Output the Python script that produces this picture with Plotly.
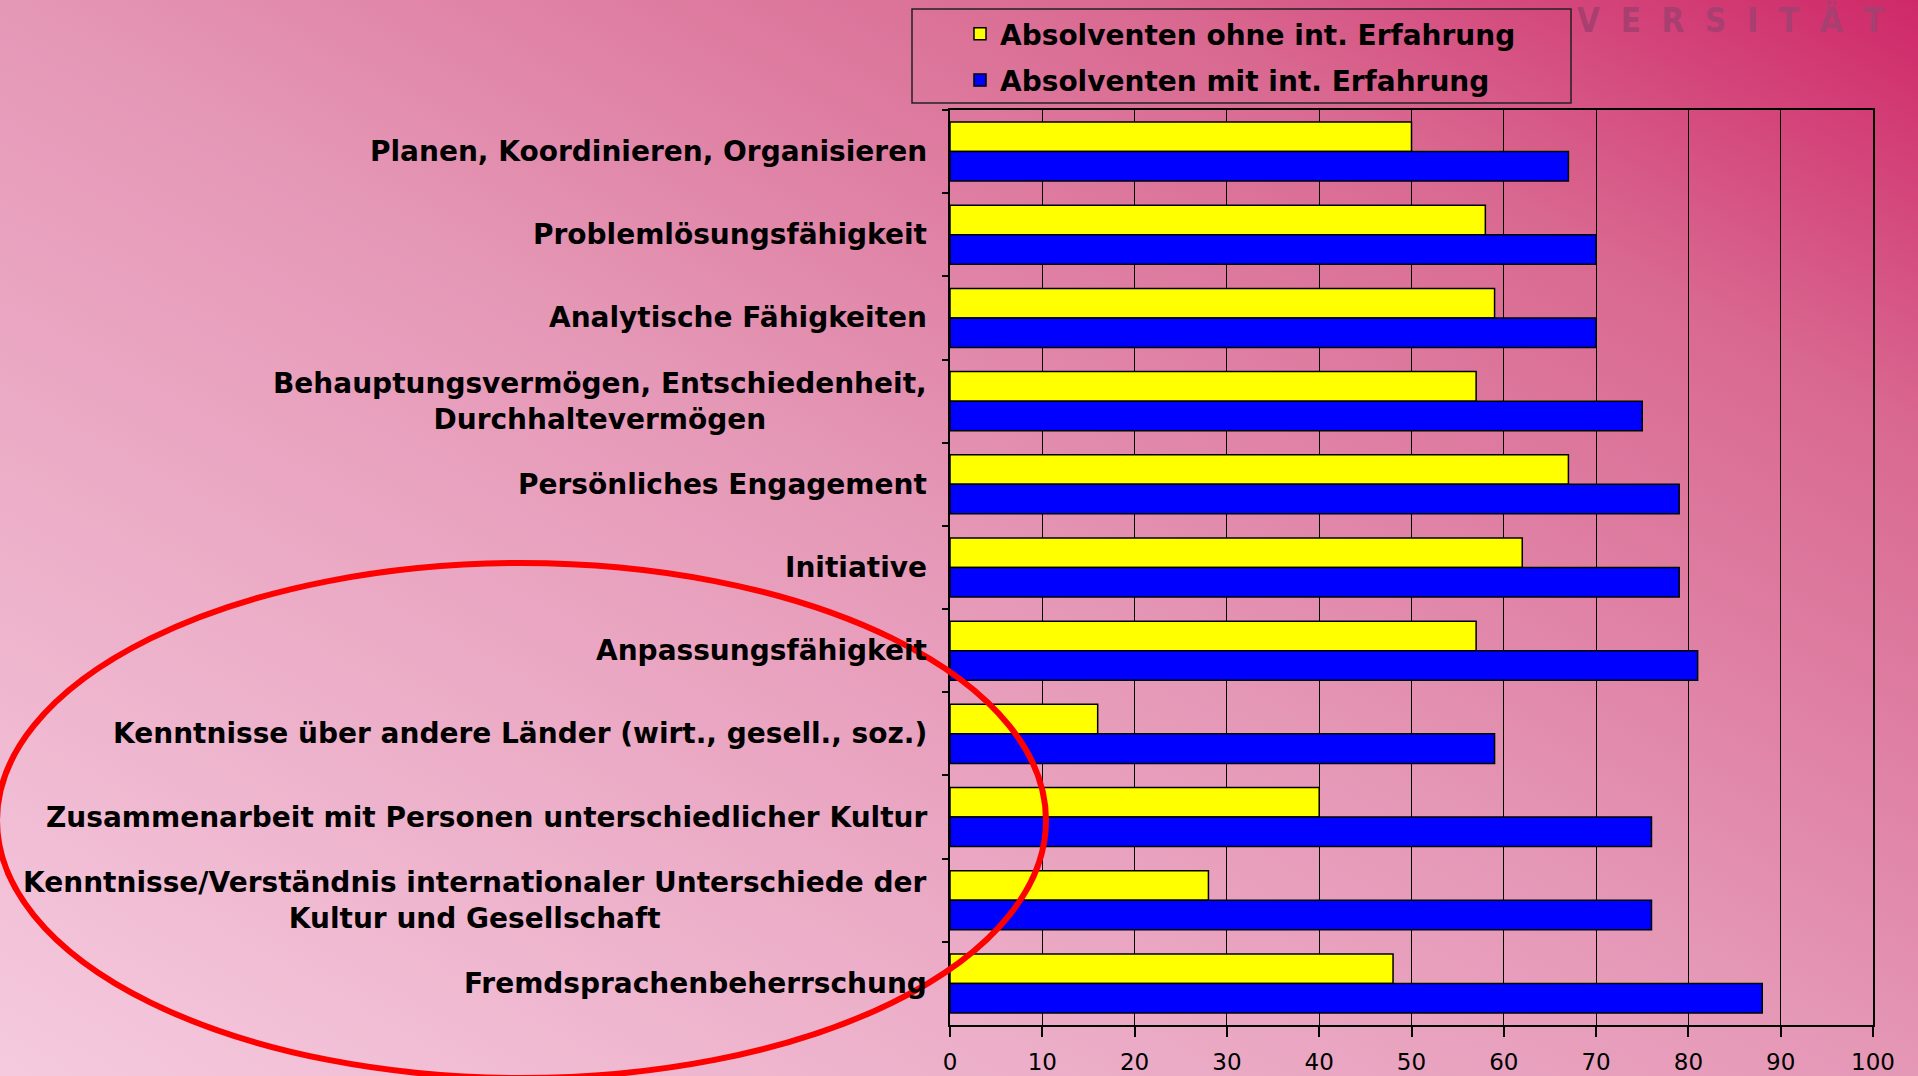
import base64
import plotly.graph_objects as go

categories = [
    "Planen, Koordinieren, Organisieren",
    "Problemlösungsfähigkeit",
    "Analytische Fähigkeiten",
    "Behauptungsvermögen, Entschiedenheit,<br>Durchhaltevermögen",
    "Persönliches Engagement",
    "Initiative",
    "Anpassungsfähigkeit",
    "Kenntnisse über andere Länder (wirt., gesell., soz.)",
    "Zusammenarbeit mit Personen unterschiedlicher Kultur",
    "Kenntnisse/Verständnis internationaler Unterschiede der<br>Kultur und Gesellschaft",
    "Fremdsprachenbeherrschung",
]
ohne_erfahrung = [50, 58, 59, 57, 67, 62, 57, 16, 40, 28, 48]
mit_erfahrung = [67, 70, 70, 75, 79, 79, 81, 59, 76, 76, 88]
series_names = ["Absolventen ohne int. Erfahrung", "Absolventen mit int. Erfahrung"]
x_ticks = list(range(0, 101, 10))

W, H = 1918, 1076
L, R, T, B = 950, 45, 110, 51
PW, PH = W - L - R, H - T - B

def px_x(x):
    return (x - L) / PW

def px_y(y):
    return (H - B - y) / PH

svg = f'''<svg xmlns="http://www.w3.org/2000/svg" width="{W}" height="{H}" viewBox="0 0 {W} {H}" preserveAspectRatio="none">
<defs><linearGradient id="g" x1="0" y1="1" x2="1" y2="0">
<stop offset="0" stop-color="#f5cade"/>
<stop offset="0.5" stop-color="#e597b6"/>
<stop offset="0.8" stop-color="#d96890"/>
<stop offset="1" stop-color="#cf2868"/>
</linearGradient></defs>
<rect x="0" y="0" width="{W}" height="{H}" fill="url(#g)"/></svg>'''
bg_uri = "data:image/svg+xml;base64," + base64.b64encode(svg.encode()).decode()

fig = go.Figure()
fig.add_trace(go.Bar(
    y=categories, x=ohne_erfahrung, orientation="h", name=series_names[0],
    marker=dict(color="#ffff00", line=dict(color="black", width=1.5)),
    legendgroup="a",
))
fig.add_trace(go.Bar(
    y=categories, x=mit_erfahrung, orientation="h", name=series_names[1],
    marker=dict(color="#0000ff", line=dict(color="black", width=1.5)),
    legendgroup="b",
))

label_font = dict(family="DejaVu Sans", size=28, color="black")
annotations = []
for c in categories:
    annotations.append(dict(
        x=0, xref="paper", y=c, yref="y", text="<b>" + c + "</b>",
        xanchor="right", yanchor="middle", xshift=-21, align="center",
        showarrow=False, font=label_font,
    ))
annotations.append(dict(
    x=px_x(1886), xref="paper", y=px_y(-2), yref="paper",
    text="<b>V\u00a0\u00a0E\u00a0\u00a0R\u00a0\u00a0S\u00a0\u00a0I\u00a0\u00a0T\u00a0\u00a0Ä\u00a0\u00a0T</b>",
    xanchor="right", yanchor="top", showarrow=False,
    font=dict(family="DejaVu Sans Condensed", size=33, color="#a83f70"),
))

fig.update_layout(
    width=W, height=H,
    margin=dict(l=L, r=R, t=T, b=B, pad=0, autoexpand=False),
    paper_bgcolor="rgba(0,0,0,0)", plot_bgcolor="rgba(0,0,0,0)",
    barmode="group", bargap=0.29, bargroupgap=0,
    images=[dict(source=bg_uri, xref="paper", yref="paper",
                 x=px_x(0), y=px_y(0), sizex=W / PW, sizey=H / PH,
                 xanchor="left", yanchor="top", sizing="stretch", layer="below")],
    legend=dict(
        x=px_x(960), y=px_y(9), xanchor="left", yanchor="top",
        bgcolor="rgba(0,0,0,0)", borderwidth=0,
        font=dict(family="DejaVu Sans", size=28, color="black", weight="bold"),
        tracegroupgap=7, traceorder="grouped",
    ),
    annotations=annotations,
    shapes=[
        dict(type="rect", xref="paper", yref="paper",
             x0=px_x(912), x1=px_x(1571), y0=px_y(103), y1=px_y(9),
             line=dict(color="#222222", width=1.5), fillcolor="rgba(0,0,0,0)"),
        dict(type="circle", xref="paper", yref="paper",
             x0=px_x(-3), x1=px_x(1046), y0=px_y(1078), y1=px_y(563),
             line=dict(color="#ff0000", width=6), layer="above"),
    ],
    xaxis=dict(
        range=[0, 100], tickvals=x_ticks, ticktext=[str(v) for v in x_ticks],
        showgrid=True, gridcolor="black", gridwidth=1, zeroline=False,
        showline=True, linecolor="black", linewidth=2, mirror=True,
        ticks="outside", ticklen=10, tickcolor="black", tickwidth=1.5,
        ticklabelstandoff=5, automargin=False,
        tickfont=dict(family="DejaVu Sans", size=23, color="black"),
    ),
    yaxis=dict(
        autorange="reversed", showgrid=False, showline=True, linecolor="black",
        linewidth=2, mirror=True, ticks="outside", ticklen=6, tickcolor="black",
        tickwidth=1.5, tickson="boundaries", showticklabels=False, automargin=False,
    ),
    showlegend=True,
)

fig.write_html(
    "out.html",
    config={"displayModeBar": False},
    post_script="document.body.style.margin='0';document.body.style.overflow='hidden';",
)
